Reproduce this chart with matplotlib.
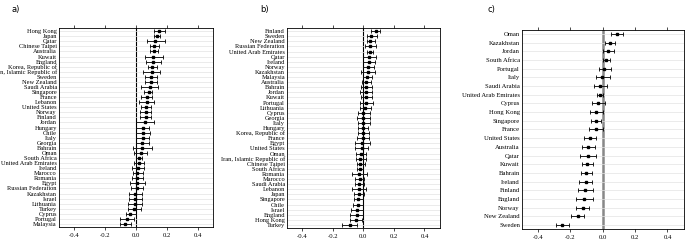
import matplotlib.pyplot as plt

plt.rcParams['font.family'] = ['Liberation Serif', 'DejaVu Serif']

# panel a
countries_a = ["Hong Kong", "Japan", "Qatar", "Chinese Taipei", "Australia", "Kuwait",
               "England", "Korea, Republic of", "Iran, Islamic Republic of", "Sweden",
               "New Zealand", "Saudi Arabia", "Singapore", "France", "Lebanon",
               "United States", "Norway", "Finland", "Jordan", "Hungary", "Chile", "Italy",
               "Georgia", "Bahrain", "Oman", "South Africa", "United Arab Emirates",
               "Ireland", "Marocco", "Romania", "Egypt", "Russian Federation", "Kazakhstan",
               "Israel", "Lithuania", "Turkey", "Cyprus", "Portugal", "Malaysia"]
est_a = [0.147, 0.139, 0.125, 0.119, 0.117, 0.112, 0.110, 0.105, 0.103, 0.097,
         0.097, 0.090, 0.081, 0.068, 0.068, 0.064, 0.062, 0.062, 0.057, 0.047,
         0.047, 0.043, 0.040, 0.038, 0.029, 0.020, 0.018, 0.013, 0.009, 0.009,
         0.007, 0.004, -0.004, -0.004, -0.007, -0.011, -0.036, -0.058, -0.070]
lo_a = [0.119, 0.117, 0.068, 0.090, 0.088, 0.055, 0.062, 0.077, 0.048, 0.059,
        0.057, 0.033, 0.053, 0.033, 0.022, 0.031, 0.028, 0.028, 0.000, 0.002,
        0.002, -0.002, -0.002, -0.022, -0.013, 0.002, -0.011, -0.027, -0.022, -0.029,
        -0.036, -0.031, -0.045, -0.045, -0.052, -0.054, -0.067, -0.103, -0.103]
hi_a = [0.187, 0.154, 0.187, 0.149, 0.145, 0.174, 0.161, 0.136, 0.158, 0.139,
        0.137, 0.143, 0.106, 0.106, 0.117, 0.097, 0.099, 0.095, 0.114, 0.083,
        0.092, 0.083, 0.085, 0.103, 0.070, 0.040, 0.049, 0.054, 0.043, 0.047,
        0.058, 0.047, 0.038, 0.038, 0.038, 0.031, -0.002, -0.013, -0.031]

# panel b
countries_b = ["Finland", "Sweden", "New Zealand", "Russian Federation",
               "United Arab Emirates", "Qatar", "Ireland", "Norway", "Kazakhstan",
               "Malaysia", "Australia", "Bahrain", "Jordan", "Kuwait", "Portugal",
               "Lithuania", "Cyprus", "Georgia", "Italy", "Hungary", "Korea, Republic of",
               "France", "Egypt", "United States", "Oman", "Iran, Islamic Republic of",
               "Chinese Taipei", "South Africa", "Romania", "Marocco", "Saudi Arabia",
               "Lebanon", "Japan", "Singapore", "Chile", "Israel", "England",
               "Hong Kong", "Turkey"]
est_b = [0.081, 0.053, 0.046, 0.044, 0.044, 0.037, 0.035, 0.033, 0.029, 0.026,
         0.020, 0.018, 0.018, 0.018, 0.018, 0.013, 0.000, 0.000, 0.000, -0.002,
         -0.004, -0.004, -0.009, -0.011, -0.017, -0.020, -0.020, -0.024, -0.026, -0.024,
         -0.026, -0.028, -0.030, -0.033, -0.037, -0.041, -0.043, -0.048, -0.087]
lo_b = [0.051, 0.024, 0.022, 0.011, 0.026, 0.000, 0.000, -0.004, -0.018, -0.002,
        -0.011, -0.018, -0.022, -0.018, -0.022, -0.024, -0.033, -0.042, -0.037, -0.033,
        -0.037, -0.039, -0.054, -0.054, -0.050, -0.050, -0.043, -0.041, -0.072, -0.054,
        -0.052, -0.074, -0.061, -0.061, -0.065, -0.083, -0.087, -0.087, -0.137]
hi_b = [0.108, 0.092, 0.075, 0.084, 0.066, 0.084, 0.077, 0.068, 0.073, 0.059,
        0.053, 0.057, 0.059, 0.057, 0.062, 0.051, 0.044, 0.044, 0.042, 0.033,
        0.037, 0.035, 0.043, 0.033, 0.017, 0.017, 0.009, -0.004, 0.026, 0.007,
        0.002, 0.020, 0.002, 0.000, -0.002, 0.000, 0.000, -0.007, -0.041]

# panel c
countries_c = ["Oman", "Kazakhstan", "Jordan", "South Africa", "Portugal", "Italy",
               "Saudi Arabia", "United Arab Emirates", "Cyprus", "Hong Kong", "Singapore",
               "France", "United States", "Australia", "Qatar", "Kuwait", "Bahrain",
               "Ireland", "Finland", "England", "Norway", "New Zealand", "Sweden"]
est_c = [0.089, 0.044, 0.035, 0.019, 0.008, -0.002, -0.015, -0.019, -0.027, -0.040,
         -0.042, -0.042, -0.079, -0.092, -0.094, -0.096, -0.102, -0.106, -0.108, -0.114,
         -0.125, -0.154, -0.250]
lo_c = [0.052, 0.012, 0.004, 0.000, -0.025, -0.042, -0.052, -0.037, -0.067, -0.077,
        -0.071, -0.083, -0.115, -0.129, -0.144, -0.131, -0.135, -0.148, -0.152, -0.167,
        -0.167, -0.194, -0.290]
hi_c = [0.125, 0.075, 0.069, 0.044, 0.050, 0.044, 0.029, 0.002, 0.012, 0.000,
        -0.012, 0.000, -0.044, -0.050, -0.044, -0.058, -0.065, -0.065, -0.062, -0.062,
        -0.083, -0.119, -0.208]

fig = plt.figure(figsize=(6.85, 2.4), dpi=100)

panels = [
    ("a)", countries_a, est_a, lo_a, hi_a, [0.0861, 0.054, 0.225, 0.829], 0.6, "black", 0.8),
    ("b)", countries_b, est_b, lo_b, hi_b, [0.419, 0.050, 0.223, 0.833], 0.6, "black", 0.8),
    ("c)", countries_c, est_c, lo_c, hi_c, [0.762, 0.046, 0.236, 0.829], 0.45, "#888888", 1.8),
]
label_x = [0.0175, 0.38, 0.712]

for i, (tag, names, est, lo, hi, pos, pad, zcol, zlw) in enumerate(panels):
    ax = fig.add_axes(pos)
    y = list(range(len(names)))
    err_lo = [e - l for e, l in zip(est, lo)]
    err_hi = [h - e for e, h in zip(est, hi)]
    ax.axvline(0, color=zcol, lw=zlw, zorder=1)
    ax.errorbar(est, y, xerr=[err_lo, err_hi], fmt="s", color="black", ms=1.8,
                elinewidth=0.6, capsize=1.2, capthick=0.6, zorder=3)
    ax.set_yticks(y)
    ax.set_yticklabels(names, fontsize=4.6 if i < 2 else 4.8)
    ax.set_ylim(len(names) - 1 + pad, -pad)
    ax.set_xlim(-0.5, 0.5)
    ax.set_xticks([-0.4, -0.2, 0.0, 0.2, 0.4])
    ax.set_xticklabels(["-0.4", "-0.2", "0.0", "0.2", "0.4"], fontsize=4.8)
    ax.tick_params(axis="x", top=True, length=2.5, width=0.5, pad=2)
    ax.tick_params(axis="y", length=0, pad=1.5)
    ax.grid(axis="y", color="#e3e3e3", lw=0.5, zorder=0)
    for s in ax.spines.values():
        s.set_linewidth(0.6)
    fig.text(label_x[i], 0.95, tag, fontsize=6, family=["DejaVu Sans"])

fig.savefig("out.png", dpi=100)
